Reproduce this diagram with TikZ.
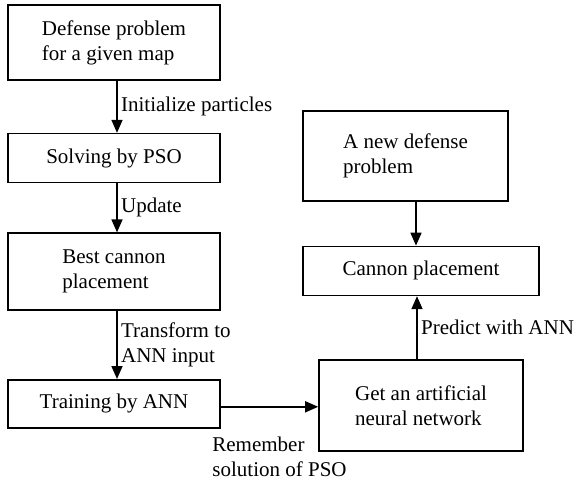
\documentclass[tikz,border=0pt]{standalone}
\usepackage{fontspec}
\setmainfont{Liberation Serif}
\usetikzlibrary{arrows.meta,positioning}

\begin{document}
\begin{tikzpicture}[
  x=1pt, y=1pt,
  >={Triangle[length=13pt,width=11pt]},
  line width=1.6pt,
  stepbox/.style={rectangle, draw=black, align=left, minimum width=212pt, font=\fontsize{21}{25}\selectfont},
  flow/.style={->, draw=black, line width=1.6pt},
  tag/.style={font=\fontsize{21}{25}\selectfont, align=left}
]
  \useasboundingbox (0,0) rectangle (588,480);
  % left column: PSO part
  \node[stepbox, minimum height=75pt] (defp) at (114,437.5) {Defense problem\\for a given map};
  \node[stepbox, minimum height=49pt, below=52pt of defp] (pso) {Solving by PSO};
  \node[stepbox, minimum height=77pt, below=49pt of pso] (best) {Best cannon\\placement};
  \node[stepbox, minimum height=48pt, below=68pt of best] (train) {Training by ANN};
  % right column: ANN part
  \node[stepbox, minimum width=204pt, minimum height=91pt] (ann) at (421,74.5) {Get an artificial\\neural network};
  \node[stepbox, minimum width=236pt, minimum height=49pt, above=63pt of ann] (cpl) {Cannon placement};
  \node[stepbox, minimum width=205pt, minimum height=90pt, above=44pt of cpl, xshift=-15.5pt] (newp) {A new defense\\problem};
  \draw[flow] ([xshift=3pt]defp.south) -- node[tag, right] {Initialize particles} ([xshift=3pt]pso.north);
  \draw[flow] ([xshift=3pt]pso.south) -- node[tag, right] {Update} ([xshift=3pt]best.north);
  \draw[flow] ([xshift=3pt]best.south) -- node[tag, right] {Transform to\\ANN input} ([xshift=3pt]train.north);
  \draw[flow] ([yshift=-3pt]train.east) -- node[tag, below=26pt, xshift=10pt] {Remember\\solution of PSO} ([yshift=-3pt]train.east -| ann.west);
  \draw[flow] ([xshift=-4pt]ann.north) -- node[tag, right] {Predict with ANN} ([xshift=-4pt]ann.north |- cpl.south);
  \draw[flow] ([xshift=10.5pt]newp.south) -- ([xshift=10.5pt]newp.south |- cpl.north);
\end{tikzpicture}
\end{document}
